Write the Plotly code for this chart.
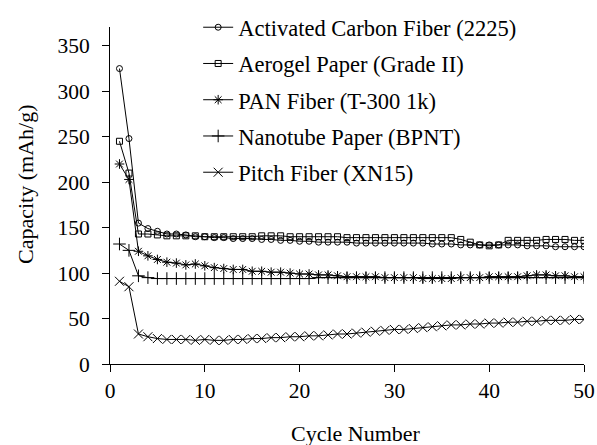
import plotly.graph_objects as go

cycles = list(range(1, 51))

activated = [325, 248, 155, 149, 146, 143, 143, 142, 140, 140, 139, 139, 138, 138, 138, 137, 137, 136, 136, 135,
             135, 134, 134, 134, 134, 133, 133, 133, 133, 133, 133, 133, 133, 132, 132, 132, 131, 131, 131, 131,
             131, 131, 131, 130, 130, 130, 129, 129, 129, 129]
aerogel = [245, 210, 143, 143, 142, 141, 141, 141, 141, 140, 140, 140, 140, 140, 140, 141, 141, 141, 140, 140,
           140, 140, 140, 140, 139, 139, 139, 139, 139, 139, 139, 139, 139, 139, 139, 139, 137, 134, 131, 130,
           131, 136, 136, 136, 136, 137, 137, 137, 136, 136]
pan = [220, 203, 124, 119, 115, 112, 111, 109, 110, 108, 106, 105, 104, 104, 102, 102, 101, 101, 100, 99,
       99, 98, 98, 97, 96, 96, 96, 96, 95, 95, 95, 95, 94, 94, 94, 94, 95, 95, 95, 96,
       96, 96, 96, 97, 98, 98, 97, 97, 96, 96]
nanotube = [132, 125, 97, 95, 94, 94, 94, 94, 94, 94, 94, 94, 94, 94, 94, 94, 94, 94, 94, 94,
            94, 95, 95, 95, 95, 95, 95, 95, 95, 95, 95, 95, 95, 95, 95, 95, 95, 95, 95, 95,
            95, 95, 95, 95, 95, 95, 95, 95, 95, 95]
pitch = [91, 85, 33, 30, 28, 27, 27, 27, 26, 27, 26, 26, 27, 27, 28, 28, 29, 29, 30, 30,
         31, 31, 32, 33, 33, 34, 35, 36, 37, 38, 38, 39, 40, 41, 42, 43, 43, 44, 44, 45,
         45, 46, 46, 47, 47, 48, 48, 48, 49, 49]

series_names = ["Activated Carbon Fiber (2225)", "Aerogel Paper (Grade II)", "PAN Fiber (T-300 1k)",
                "Nanotube Paper (BPNT)", "Pitch Fiber (XN15)"]
series_values = [activated, aerogel, pan, nanotube, pitch]
symbols = ["circle-open", "square-open", "asterisk-open", "cross-thin-open", "x-thin-open"]
sizes = [6, 6, 8, 9, 9]

x_ticks = [0, 10, 20, 30, 40, 50]
y_ticks = [0, 50, 100, 150, 200, 250, 300, 350]

FONT = "Times New Roman"

fig = go.Figure()
for i, (name, vals) in enumerate(zip(series_names, series_values)):
    fig.add_trace(go.Scatter(
        x=cycles, y=vals, name=name, mode="lines+markers",
        legendgroup=f"g{i}",
        line=dict(color="black", width=1),
        marker=dict(symbol=symbols[i], size=sizes[i], color="black",
                    line=dict(color="black", width=1)),
    ))

fig.update_layout(
    width=597, height=445,
    margin=dict(l=110, r=13, t=27, b=81, autoexpand=False),
    paper_bgcolor="white", plot_bgcolor="white",
    font=dict(family=FONT, size=21, color="black"),
    showlegend=True,
    legend=dict(x=0.186, y=1.062, xanchor="left", yanchor="top",
                bgcolor="rgba(0,0,0,0)", font=dict(family=FONT, size=22.5),
                traceorder="grouped", tracegroupgap=4, itemwidth=30),
)
fig.update_xaxes(range=[0, 50], tickvals=x_ticks, showgrid=False, zeroline=False,
                 showline=True, linecolor="black", linewidth=1,
                 ticks="outside", ticklen=7, tickcolor="black",
                 tickfont=dict(family=FONT, size=21.5))
fig.update_yaxes(range=[0, 370.7], tickvals=y_ticks, showgrid=False, zeroline=False,
                 showline=True, linecolor="black", linewidth=1,
                 ticks="outside", ticklen=7, tickcolor="black", ticklabelstandoff=8,
                 tickfont=dict(family=FONT, size=21.5))

fig.add_annotation(text="Capacity (mAh/g)", xref="paper", yref="paper",
                   x=(25 - 110) / 474, y=(364 - 185) / 337, textangle=-90,
                   xanchor="center", yanchor="middle",
                   showarrow=False, font=dict(family=FONT, size=22))
fig.add_annotation(text="Cycle Number", xref="paper", yref="paper",
                   x=(356 - 110) / 474, y=(364 - 433) / 337,
                   xanchor="center", yanchor="middle",
                   showarrow=False, font=dict(family=FONT, size=22))

fig.write_html("out.html")
